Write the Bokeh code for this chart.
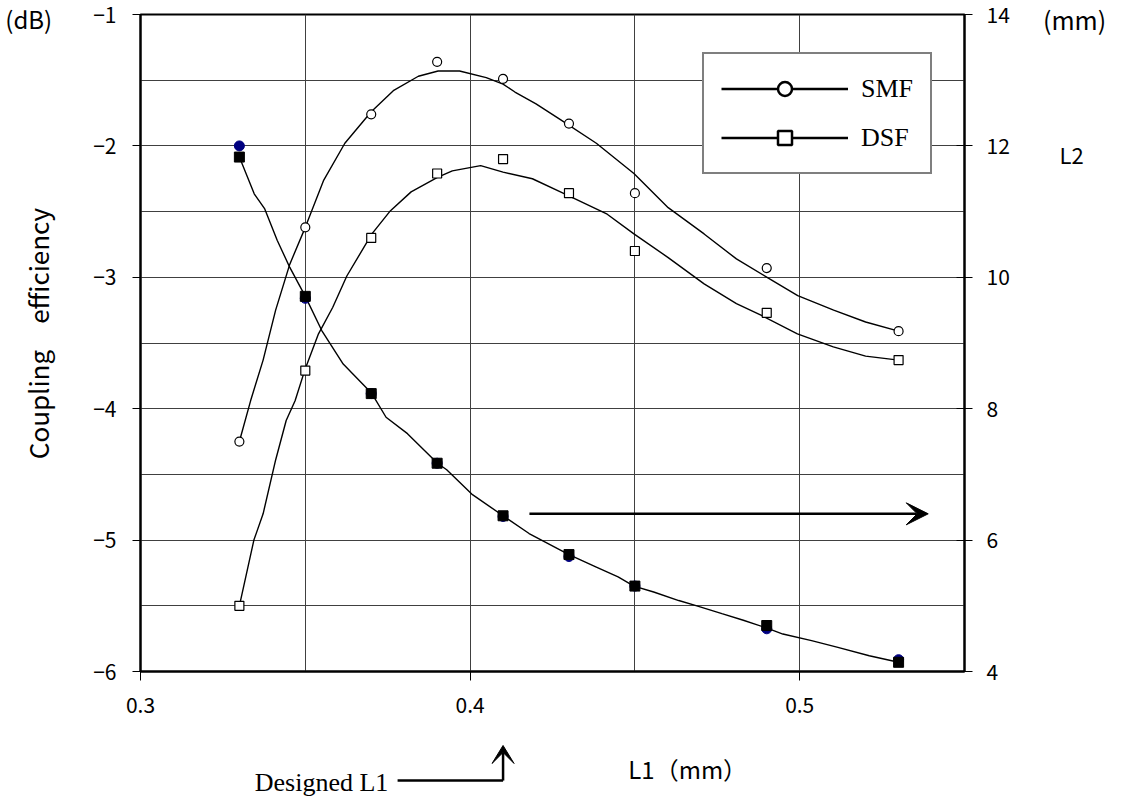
import math
from bokeh.plotting import figure
from bokeh.models import (Range1d, LinearAxis, FixedTicker, Arrow, VeeHead,
                          Legend, LegendItem)
from bokeh.core.properties import value
from bokeh.embed import file_html
from bokeh.resources import INLINE

# ---------------- data ----------------
l1 = [0.33, 0.35, 0.37, 0.39, 0.41, 0.43, 0.45, 0.49, 0.53]
smf = [-4.25, -2.62, -1.76, -1.36, -1.49, -1.83, -2.36, -2.93, -3.41]
dsf = [-5.50, -3.71, -2.70, -2.21, -2.10, -2.36, -2.80, -3.27, -3.63]
l2_square = [11.83, 9.71, 8.23, 7.17, 6.37, 5.78, 5.30, 4.70, 4.14]
l2_circle = [12.00, 9.68, 8.23, 7.17, 6.36, 5.75, 5.30, 4.65, 4.18]

# smooth trend curves
smf_curve_x = [0.33, 0.3334, 0.3372, 0.341, 0.3453, 0.35, 0.3556, 0.362, 0.370, 0.3767,
               0.3843, 0.3903, 0.3968, 0.4049, 0.41, 0.4136, 0.42, 0.4274, 0.4383, 0.4497,
               0.4601, 0.471, 0.4808, 0.4901, 0.4994, 0.5103, 0.52, 0.53]
smf_curve_y = [-4.25, -3.94, -3.63, -3.25, -2.90, -2.62, -2.26, -1.98, -1.74, -1.58,
               -1.47, -1.43, -1.43, -1.48, -1.53, -1.59, -1.68, -1.80, -1.98, -2.21,
               -2.47, -2.67, -2.86, -3.00, -3.14, -3.25, -3.34, -3.41]
dsf_curve_x = [0.33, 0.3344, 0.3372, 0.341, 0.3442, 0.3469, 0.3498, 0.354, 0.3583, 0.3626,
               0.3702, 0.3756, 0.3821, 0.3901, 0.3946, 0.4032, 0.41, 0.4189, 0.4274, 0.4416,
               0.4497, 0.4601, 0.471, 0.4808, 0.4884, 0.4993, 0.5102, 0.52, 0.53]
dsf_curve_y = [-5.50, -5.00, -4.80, -4.39, -4.09, -3.94, -3.71, -3.43, -3.23, -2.99,
               -2.67, -2.50, -2.35, -2.24, -2.19, -2.15, -2.20, -2.25, -2.35, -2.52,
               -2.67, -2.85, -3.05, -3.20, -3.29, -3.43, -3.53, -3.60, -3.63]
l2_curve_x = [0.33, 0.3345, 0.3377, 0.3415, 0.3453, 0.35, 0.355, 0.3615, 0.3702, 0.3745,
              0.381, 0.3901, 0.3929, 0.4005, 0.41, 0.4179, 0.43, 0.4383, 0.4449, 0.4497,
              0.4557, 0.4633, 0.4688, 0.4764, 0.4829, 0.4901, 0.4949, 0.5036, 0.5113,
              0.5211, 0.53]
l2_curve_y = [11.83, 11.27, 11.04, 10.56, 10.15, 9.71, 9.19, 8.68, 8.23, 7.87,
              7.62, 7.17, 7.07, 6.70, 6.37, 6.10, 5.78, 5.59, 5.44, 5.30,
              5.21, 5.08, 5.00, 4.88, 4.78, 4.66, 4.57, 4.47, 4.37, 4.24, 4.14]

x_ticks = [0.3, 0.4, 0.5]
x_tick_labels = ["0.3", "0.4", "0.5"]
x_grid = [0.35, 0.4, 0.45, 0.5]
y_ticks = [-6, -5, -4, -3, -2, -1]
y_tick_labels = ["\u22126", "\u22125", "\u22124", "\u22123", "\u22122", "\u22121"]
y_grid = [-5.5, -5.0, -4.5, -4.0, -3.5, -3.0, -2.5, -2.0, -1.5]
r_ticks = [4, 6, 8, 10, 12, 14]
r_tick_labels = ["4", "6", "8", "10", "12", "14"]
series_names = ["SMF", "DSF"]

designed_l1 = 0.41

SANS = "Noto Sans CJK JP"
SERIF = "Liberation Serif"

X0, X1, Y0, Y1 = 0.3, 0.55, -6.0, -1.0
FRAME_W, FRAME_H = 824, 657
W, H = 1120, 800
p = figure(width=W, height=H, output_backend="svg", toolbar_location=None,
           x_range=Range1d(X0, X1), y_range=Range1d(Y0, Y1),
           min_border_left=140, min_border_right=W - 140 - FRAME_W, min_border_top=14,
           min_border_bottom=H - 14 - FRAME_H)
p.title.visible = False
p.extra_y_ranges = {"L2": Range1d(4, 14)}
p.background_fill_color = "white"
p.border_fill_color = "white"
p.outline_line_color = "black"
p.outline_line_width = 2

# grids
p.xgrid.ticker = FixedTicker(ticks=x_grid)
p.ygrid.ticker = FixedTicker(ticks=y_grid)
for g in (p.xgrid, p.ygrid):
    g.grid_line_color = "#404040"
    g.grid_line_width = 1

# axes
xa = p.xaxis[0]
xa.ticker = FixedTicker(ticks=x_ticks)
xa.major_label_overrides = dict(zip(x_ticks, x_tick_labels))
ya = p.yaxis[0]
ya.ticker = FixedTicker(ticks=y_ticks)
ya.major_label_overrides = dict(zip(y_ticks, y_tick_labels))
ra = LinearAxis(y_range_name="L2", ticker=FixedTicker(ticks=r_ticks))
ra.major_label_overrides = dict(zip(r_ticks, r_tick_labels))
p.add_layout(ra, "right")

for ax in (xa, ya, ra):
    ax.axis_line_color = "black"
    ax.axis_line_width = 2
    ax.major_tick_line_color = "black"
    ax.major_tick_line_width = 1
    ax.minor_tick_line_color = None
    ax.major_label_text_font = SANS
    ax.major_label_text_font_size = "21px"
    ax.major_label_text_color = "black"
xa.major_tick_out = 9
xa.major_tick_in = 0
xa.major_label_standoff = 16
ya.major_tick_out = 8
ya.major_tick_in = 0
ya.major_label_standoff = 16
ra.major_tick_out = 8
ra.major_tick_in = 8
ra.major_label_standoff = 14

# curves
p.line(smf_curve_x, smf_curve_y, line_color="black", line_width=1.4)
p.line(dsf_curve_x, dsf_curve_y, line_color="black", line_width=1.4)
p.line(l2_curve_x, l2_curve_y, line_color="black", line_width=1.4, y_range_name="L2")

# markers
p.scatter(l1, smf, marker="circle", size=9, fill_color="white", line_color="black",
          line_width=1.2)
p.scatter(l1, dsf, marker="square", size=9, fill_color="white", line_color="black",
          line_width=1.2)
p.scatter(l1, l2_circle, marker="circle", size=10, fill_color="#000080",
          line_color="#000080", y_range_name="L2")
p.scatter(l1, l2_square, marker="square", size=10, fill_color="black",
          line_color="black", y_range_name="L2")

# legend swatches (one NaN point each, so they only appear in the legend)
nan = float("nan")
leg_line1 = p.line([nan], [nan], line_color="black", line_width=2.5)
leg_mark1 = p.scatter([nan], [nan], marker="circle", size=14, fill_color="white",
                      line_color="black", line_width=2.5)
leg_line2 = p.line([nan], [nan], line_color="black", line_width=2.5)
leg_mark2 = p.scatter([nan], [nan], marker="square", size=14, fill_color="white",
                      line_color="black", line_width=2.5)
legend = Legend(items=[LegendItem(label=series_names[0], renderers=[leg_line1, leg_mark1]),
                       LegendItem(label=series_names[1], renderers=[leg_line2, leg_mark2])],
                location=(562, 497), orientation="vertical",
                label_text_font=SERIF, label_text_font_size="26px",
                label_text_color="black",
                glyph_width=127, glyph_height=35, label_height=35,
                label_standoff=13, spacing=14, padding=17, margin=0,
                border_line_color="black", border_line_width=2.5,
                background_fill_color="white", background_fill_alpha=1.0)
p.add_layout(legend)

# arrow pointing to the right axis
p.add_layout(Arrow(end=VeeHead(size=22, fill_color="black", line_color="black"),
                   x_start=0.418, y_start=-4.80, x_end=0.539, y_end=-4.80,
                   line_color="black", line_width=2.5))

# "Designed L1" marker below the axis (overlay level, so not clipped by the frame)
x_per_px = (X1 - X0) / FRAME_W
y_per_px = (Y1 - Y0) / FRAME_H
bend_y, tip_y = -6.83, -6.563
head_half, head_len, head_notch = 11, 18, 7
p.line([0.378, designed_l1], [bend_y, bend_y], line_color="black", line_width=2.5,
       level="overlay")
p.line([designed_l1, designed_l1], [bend_y, tip_y - head_notch * y_per_px],
       line_color="black", line_width=2.5, level="overlay")
p.patch([designed_l1, designed_l1 + head_half * x_per_px, designed_l1,
         designed_l1 - head_half * x_per_px],
        [tip_y, tip_y - head_len * y_per_px, tip_y - head_notch * y_per_px,
         tip_y - head_len * y_per_px],
        fill_color="black", line_color="black", line_width=1, level="overlay")


def txt(x, y, s, size, font=SANS, align="center", baseline="middle", angle=0.0):
    p.text(x=[x], y=[y], text=[s], text_font=value(font), text_font_size=value(size),
           text_align=align, text_baseline=baseline, angle=angle, text_color="black",
           level="overlay")


txt(0.3752, -6.845, "Designed L1", "26px", font=SERIF, align="right")
txt(0.2590, -1.03, "(dB)", "24px", align="left")
txt(0.5834, -1.038, "(mm)", "25px")
txt(0.5825, -2.058, "L2", "22px")
txt(0.4480, -6.738, "L1（mm）", "24px", align="left")
txt(0.2689, -3.428, "Coupling\u3000efficiency", "26px", angle=math.pi / 2)

open("out.html", "w").write(file_html(p, INLINE))
